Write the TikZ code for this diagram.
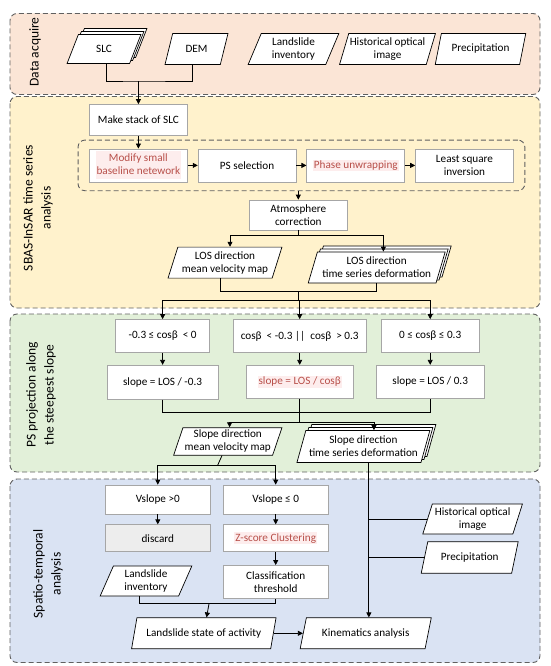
\documentclass[tikz,border=0pt]{standalone}
\usepackage{fontspec}
\setmainfont{Carlito}
\usepackage{tikz}
\usetikzlibrary{shapes.geometric, arrows.meta,
                positioning, fit, shadows}

\definecolor{dataFill}{HTML}{FBE5D6}
\definecolor{sbasFill}{HTML}{FFF2CC}
\definecolor{psFill}{HTML}{E2F0D9}
\definecolor{stFill}{HTML}{DAE3F3}
\definecolor{boxLine}{HTML}{A6A6A6}
\definecolor{redText}{HTML}{B8504A}
\definecolor{hlPink}{HTML}{FDEDED}
\definecolor{discardFill}{HTML}{EDEDED}

\setlength{\fboxsep}{1pt}
\newcommand{\hlred}[1]{\colorbox{hlPink}{\textcolor{redText}{#1}}}

\begin{document}
\begin{tikzpicture}[
    x=1pt, y=-1pt,
    font=\fontsize{11.2}{13}\selectfont,
    panel/.style    = {draw=gray!75!black, line width=0.9pt,
                       dash pattern=on 5pt off 3pt,
                       rounded corners=7pt},
    innerpanel/.style = {draw=gray!75!black, line width=0.9pt,
                       dash pattern=on 5pt off 3pt,
                       rounded corners=7pt},
    sidelabel/.style = {rotate=90, align=center,
                       font=\fontsize{13.5}{18}\selectfont},
    procbox/.style  = {rectangle, draw=boxLine, fill=white,
                       line width=0.7pt, align=center,
                       inner sep=2pt,
                       minimum width=98pt, minimum height=33pt},
    databox/.style  = {trapezium, trapezium left angle=71,
                       trapezium right angle=109,
                       trapezium stretches=true,
                       draw=black, fill=white, line width=0.7pt,
                       align=center, inner xsep=1pt, inner ysep=2pt,
                       minimum height=31pt},
    stackbox/.style = {databox,
                       double copy shadow={shadow xshift=3pt,
                                           shadow yshift=3pt}},
    line/.style     = {line width=0.8pt, black},
    arrow/.style    = {-{Triangle[length=5pt, width=5pt]},
                       line width=0.8pt, black}
]
\useasboundingbox (0,0) rectangle (550,666);

%% Panels
\draw[panel, fill=dataFill] (10,13.5)  rectangle (540,94.5);
\draw[panel, fill=sbasFill] (10,96.5)  rectangle (540,308);
\draw[panel, fill=psFill]   (10,314)   rectangle (540,472);
\draw[panel, fill=stFill]   (10,479)   rectangle (540,662.5);

\node[sidelabel] (lblData) at (35,52)   {Data acquire};
\node[sidelabel] (lblSbas) at (38,208)  {SBAS-InSAR time series\\analysis};
\node[sidelabel] (lblPs)   at (41,395)  {PS projection along\\the steepest slope};
\node[sidelabel] (lblSt)   at (48,574)  {Spatio-temporal\\analysis};

%% Data acquire
\node[stackbox, minimum width=74pt, minimum height=29pt]
    (slc) at (104,49) {SLC};
\node[databox, minimum width=63pt] (dem)   at (196.5,49) {DEM};
\node[databox, minimum width=91pt] (inv1)  at (293.5,49)
    {Landslide\\inventory};
\node[databox, minimum width=95pt] (opt1)  at (387.5,49)
    {Historical optical\\image};
\node[databox, minimum width=91pt] (rain1) at (480.5,49)
    {Precipitation};

%% SBAS-InSAR
\node[procbox, minimum height=31pt] (stack) at (138.4,120)
    {Make stack of SLC};
\node[procbox] (modify) at (138.4,165.4)
    {\hlred{\begin{tabular}{@{}c@{}}Modify small\\
     baseline netework\end{tabular}}};
\node[procbox, right=10pt of modify] (pssel) {PS selection};
\node[procbox, right=10pt of pssel] (unwrap)
    {\hlred{Phase unwrapping}};
\node[procbox, right=10pt of unwrap] (lsq)
    {Least square\\inversion};
\node[innerpanel, fit=(modify)(lsq),
      inner xsep=11pt, inner ysep=8.5pt] (loop) {};

\node[procbox, minimum height=30pt] (atmo) at (298.3,215)
    {Atmosphere\\correction};
\node[databox, minimum width=114pt] (losvel) at (225,262.6)
    {LOS direction\\mean velocity map};
\node[stackbox, minimum width=137pt] (losts) at (376.7,267.5)
    {LOS direction\\time series deformation};

%% PS projection
\node[procbox, minimum width=93.6pt] (cond1) at (162.6,336)
    {-0.3 ≤ cosβ~ < 0};
\node[procbox, minimum width=133.6pt] (cond2) at (299.7,336)
    {cosβ~ < -0.3 ||~ cosβ~ > 0.3};
\node[procbox, minimum width=97.8pt] (cond3) at (430.2,336)
    {0 ≤ cosβ ≤ 0.3};
\node[procbox, minimum width=110.5pt, minimum height=34pt,
      below=12pt of cond1] (slope1) {slope = LOS / -0.3};
\node[procbox, minimum width=107.4pt, below=12pt of cond2] (slope2)
    {\hlred{slope = LOS / cosβ}};
\node[procbox, minimum width=107.3pt, below=12pt of cond3] (slope3)
    {slope = LOS / 0.3};

\node[databox, minimum width=108.4pt, minimum height=27.5pt]
    (slpvel) at (227.8,441.4) {Slope direction\\mean velocity map};
\node[stackbox, minimum width=133pt, minimum height=32pt]
    (slpts) at (363.4,446.5) {Slope direction\\time series deformation};

%% Spatio-temporal
\node[procbox, minimum width=105pt, minimum height=29pt]
    (vpos) at (157.8,499.5) {Vslope >0};
\node[procbox, minimum width=105pt, minimum height=29pt]
    (vneg) at (275.7,499.5) {Vslope ≤ 0};
\node[procbox, minimum width=105pt, minimum height=27pt,
      fill=discardFill, below=10pt of vpos] (discard) {discard};
\node[procbox, minimum width=105pt, minimum height=27pt,
      below=10pt of vneg] (zscore) {\hlred{Z-score Clustering}};
\node[procbox, minimum width=105pt, below=13pt of zscore] (classthr)
    {Classification\\threshold};
\node[databox, minimum width=92pt, minimum height=30pt]
    (inv2) at (146,581) {Landslide\\inventory};
\node[databox, minimum width=144.5pt] (state) at (203.8,633.3)
    {Landslide state of activity};
\node[databox, minimum width=131.4pt] (kin) at (365.7,633.3)
    {Kinematics analysis};
\node[databox, minimum width=100pt, minimum height=30pt]
    (opt2) at (472.6,519) {Historical optical\\image};
\node[databox, minimum width=97.5pt, minimum height=31.5pt]
    (rain2) at (469.7,557.5) {Precipitation};

%% Junctions
\coordinate (jSlc)  at (139,81);
\coordinate (jAtmo) at (298.3,235.6);
\coordinate (jLos)  at (298.3,291.4);
\coordinate (jCond) at (298.3,300.5);
\coordinate (jSlp)  at (299.7,412.6);
\coordinate (jOut)  at (299.7,422);
\coordinate (jVel)  at (217.5,465.6);
\coordinate (jAct)  at (209,603.8);

%% Arrows
\draw[line]  ([xshift=8pt]slc.bottom side) |- (jSlc) -| (dem.bottom side);
\draw[arrow] (jSlc) -- (jSlc -| stack.north) -- (stack.north);
\draw[arrow] (stack) -- (modify);
\draw[arrow] (modify) -- (pssel);
\draw[arrow] (pssel)  -- (unwrap);
\draw[arrow] (unwrap) -- (lsq);
\draw[arrow] (loop.south -| atmo.north) -- (atmo.north);
\draw[line]  (atmo.south) -- (jAtmo);
\draw[arrow] (jAtmo) -| (losvel.top side);
\draw[arrow] (jAtmo) -| ([xshift=2pt]losts.top side);
\draw[line]  (losvel.bottom side) |- (jLos) -| ([xshift=4pt]losts.bottom side);
\draw[line]  (jLos) -- (jCond);
\draw[arrow] (jCond) -| (cond1.north);
\draw[arrow] (jCond) -- (jCond -| cond2.north) -- (cond2.north);
\draw[arrow] (jCond) -| (cond3.north);
\draw[arrow] (cond1) -- (slope1);
\draw[arrow] (cond2) -- (slope2);
\draw[arrow] (cond3) -- (slope3);
\draw[line]  (slope1.south) |- (jSlp) -| (slope3.south);
\draw[line]  (slope2.south) -- (jOut);
\draw[arrow] (jOut) -| ([xshift=-3pt]slpvel.top side);
\draw[arrow] (jOut) -| ([xshift=6pt]slpts.top side);
\draw[line]  ([xshift=-1pt]slpvel.bottom side) -- (jVel);
\draw[arrow] (jVel) -| (vpos.north);
\draw[arrow] (jVel) -| (vneg.north);
\draw[arrow] (vpos) -- (discard);
\draw[arrow] (vneg) -- (zscore);
\draw[arrow] (zscore) -- (classthr);
\draw[line]  (inv2.bottom side) |- (jAct) -| (classthr.south);
\draw[arrow] (jAct) -- (state.top side);
\draw[arrow] (state.right side) -- (kin.left side);
\draw[arrow] (slpts.south -| kin.top side) -- (kin.top side);
\draw[line]  (opt2.left side) -- (opt2.left side -| kin.top side);
\draw[line]  (rain2.left side) -- (rain2.left side -| kin.top side);
\end{tikzpicture}
\end{document}
